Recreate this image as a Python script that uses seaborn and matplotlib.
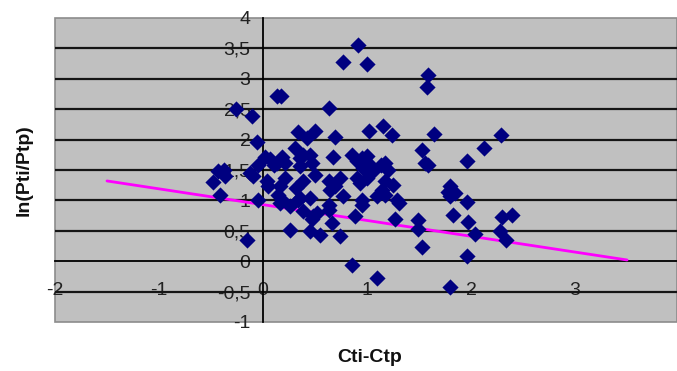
import matplotlib
matplotlib.use("Agg")
import matplotlib.pyplot as plt
import seaborn as sns
import pandas as pd
import numpy as np

# data
x_vals = [0.91, 0.77, 1.00, 1.59, 1.58, 0.13, 0.17, 0.63, -0.26, -0.11, -0.06,
          0.34, 0.50, 0.42, 0.69, 1.02, 1.15, 1.24, 1.64, 1.53, 1.59, 1.56, 0.31, 0.67,
          1.96, 2.12, 2.29,
          1.80, 1.78, 1.85, 1.80, 1.96, 1.83, 1.97, 2.04, 1.96, 1.80,
          2.30, 2.39, 2.28, 2.34,
          1.49, 1.49, 1.53, 1.31, 1.27,
          0.02, 0.07, 0.13, 0.18, 0.21, 0.11, -0.05,
          0.36, 0.38, 0.45, 0.47, 0.36, 0.50,
          0.63, 0.64, 0.74, 0.69,
          0.86, 0.90, 0.95, 1.00, 1.03, 0.96, 0.90, 0.93, 1.00, 1.06, 1.13, 1.17, 1.20, 1.25, 1.17, 1.14, 1.10,
          -0.10, -0.13,
          -0.48, -0.43, -0.37, -0.38, -0.41,
          -0.05, 0.04, 0.05,
          0.21, 0.16, 0.14, 0.18, 0.16, 0.26,
          0.36, 0.34, 0.45, 0.38,
          0.48, 0.52, 0.47, 0.63, 0.63, 0.66, 0.77, 0.95, 0.95, 0.88, 1.17, 1.29,
          0.26, 0.45, 0.55, 0.74, -0.15, 0.86, 1.10,
          0.38, 0.32]
y_vals = [3.55, 3.27, 3.24, 3.06, 2.86, 2.71, 2.71, 2.52, 2.50, 2.38, 1.96,
          2.12, 2.14, 2.02, 2.05, 2.14, 2.22, 2.07, 2.10, 1.83, 1.58, 1.62, 1.87, 1.72,
          1.64, 1.86, 2.07,
          1.23, 1.14, 1.12, 1.07, 0.97, 0.76, 0.64, 0.45, 0.08, -0.43,
          0.72, 0.76, 0.49, 0.35,
          0.67, 0.53, 0.23, 0.95, 0.69,
          1.72, 1.68, 1.62, 1.72, 1.62, 1.58, 1.58,
          1.69, 1.74, 1.74, 1.61, 1.56, 1.41,
          1.32, 1.17, 1.37, 1.23,
          1.74, 1.64, 1.69, 1.73, 1.58, 1.53, 1.37, 1.28, 1.37, 1.48, 1.58, 1.61, 1.50, 1.25, 1.32, 1.17, 1.07,
          1.40, 1.45,
          1.30, 1.48, 1.40, 1.50, 1.09,
          1.00, 1.32, 1.23,
          1.37, 1.23, 1.09, 1.00, 0.95, 0.90,
          1.04, 1.00, 1.04, 0.82,
          0.74, 0.79, 0.70, 0.92, 0.84, 0.63, 1.07, 1.00, 0.92, 0.74, 1.09, 1.00,
          0.51, 0.49, 0.43, 0.41, 0.35, -0.07, -0.28,
          1.32, 1.20]

trend_x = [-1.5, 3.5]
trend_y = [1.32, 0.02]

x_ticks = [-2, -1, 0, 1, 2, 3]
x_tick_labels = ["-2", "-1", "0", "1", "2", "3"]
y_ticks = [-1, -0.5, 0, 0.5, 1, 1.5, 2, 2.5, 3, 3.5, 4]
y_tick_labels = ["-1", "-0,5", "0", "0,5", "1", "1,5", "2", "2,5", "3", "3,5", "4"]

x_label = "Cti-Ctp"
y_label = "ln(Pti/Ptp)"

sns.set_style("white")
plt.rcParams["font.family"] = ["Liberation Sans", "DejaVu Sans"]

fig = plt.figure(figsize=(6.77, 3.71), dpi=100)
W, H = 677, 371
left, right, top, bottom = 55, 677, 18, 322
ax = fig.add_axes([left / W, 1 - bottom / H, (right - left) / W, (bottom - top) / H])

ax.set_facecolor("#C0C0C0")
ax.patch.set_edgecolor("#8c8c8c")
ax.patch.set_linewidth(1.2)

df = pd.DataFrame({"x": x_vals, "y": y_vals})
tr = pd.DataFrame({"x": trend_x, "y": trend_y})

sns.lineplot(data=tr, x="x", y="y", ax=ax, color="#FF00FF", linewidth=2.0, zorder=2.6)
sns.scatterplot(data=df, x="x", y="y", ax=ax, marker="D", s=68, color="#000080",
                edgecolor="#000080", linewidth=0, zorder=3)

ax.set_xlim(-2, 3.98)
ax.set_ylim(-1, 4)

# horizontal gridlines
for yv in y_ticks:
    if yv not in (-1, 0, 4):
        ax.axhline(yv, color="#151515", linewidth=1.6, zorder=1)

for s in ["top", "right"]:
    ax.spines[s].set_visible(False)
ax.spines["left"].set_position(("data", 0))
ax.spines["bottom"].set_position(("data", 0))
ax.spines["left"].set_color("black")
ax.spines["bottom"].set_color("black")
ax.spines["left"].set_linewidth(1.3)
ax.spines["bottom"].set_linewidth(1.3)
ax.spines["left"].set_zorder(2)
ax.spines["bottom"].set_zorder(2)

ax.set_xticks(x_ticks)
ax.set_xticklabels(x_tick_labels)
ax.set_yticks(y_ticks)
ax.set_yticklabels(y_tick_labels)
ax.tick_params(axis="x", direction="out", length=3, width=1.2, pad=12,
               labelsize=14, labelcolor="#222222", color="black")
ax.tick_params(axis="y", direction="out", length=3, width=1.2, pad=6,
               labelsize=14, labelcolor="#222222", color="black")

ax.set_xlabel(x_label, fontsize=14, fontweight="bold", color="#111111")
ax.set_ylabel(y_label, fontsize=14, fontweight="bold", color="#111111")
ax.xaxis.set_label_coords((370 - left) / (right - left), (bottom - 357) / (bottom - top))
ax.xaxis.label.set_va("center")
ax.yaxis.set_label_coords((24 - left) / (right - left), 0.5)
ax.yaxis.label.set_va("center")

fig.savefig("out.png", dpi=100)
